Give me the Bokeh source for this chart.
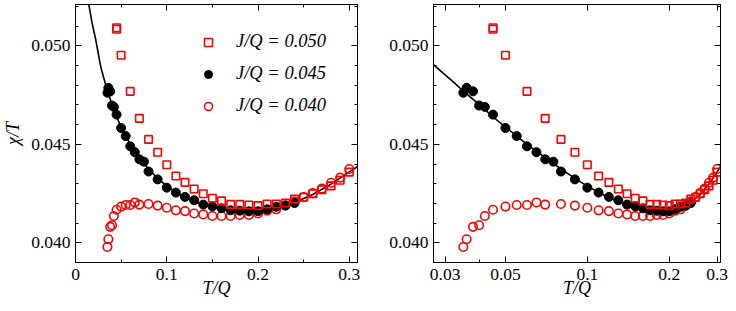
from bokeh.plotting import figure
from bokeh.models import Range1d, FixedTicker, LinearAxis, Legend, LegendItem, CustomLabelingPolicy
from bokeh.layouts import row
from bokeh.embed import file_html
from bokeh.resources import INLINE

# ---------------- data ----------------
T_045 = [0.035, 0.036, 0.038, 0.040, 0.042, 0.045, 0.050, 0.055, 0.060, 0.065,
         0.070, 0.075, 0.080, 0.090, 0.100, 0.110, 0.120, 0.130, 0.140, 0.150,
         0.160, 0.170, 0.180, 0.190, 0.200, 0.210, 0.220, 0.230, 0.240]
chi_045 = [0.04762, 0.04787, 0.04769, 0.04697, 0.04690, 0.04651, 0.04583, 0.04542, 0.04490, 0.04460,
           0.04424, 0.04412, 0.04362, 0.04322, 0.04280, 0.04255, 0.04233, 0.04216, 0.04194, 0.04185,
           0.04175, 0.04165, 0.04163, 0.04160, 0.04160, 0.04170, 0.04183, 0.04189, 0.04202]

T_050 = [0.045, 0.045, 0.050, 0.060, 0.070, 0.080, 0.090, 0.100, 0.110, 0.120,
         0.130, 0.140, 0.150, 0.160, 0.170, 0.180, 0.190, 0.200, 0.210, 0.220,
         0.230, 0.240, 0.250, 0.260, 0.270, 0.280, 0.290, 0.300]
chi_050 = [0.05092, 0.05084, 0.04952, 0.04769, 0.04632, 0.04525, 0.04460, 0.04396, 0.04339, 0.04307,
           0.04273, 0.04249, 0.04226, 0.04213, 0.04195, 0.04195, 0.04192, 0.04189, 0.04197, 0.04197,
           0.04202, 0.04222, 0.04231, 0.04249, 0.04270, 0.04289, 0.04318, 0.04359]

T_040 = [0.035, 0.036, 0.038, 0.040, 0.042, 0.045, 0.050, 0.055, 0.060, 0.065,
         0.070, 0.080, 0.090, 0.100, 0.110, 0.120, 0.130, 0.140, 0.150, 0.160,
         0.170, 0.180, 0.190, 0.200, 0.210, 0.220, 0.230, 0.240, 0.250, 0.260,
         0.270, 0.280, 0.290, 0.300]
chi_040 = [0.03979, 0.04018, 0.04081, 0.04089, 0.04136, 0.04168, 0.04184, 0.04192, 0.04192, 0.04205,
           0.04194, 0.04197, 0.04189, 0.04178, 0.04165, 0.04161, 0.04149, 0.04144, 0.04136, 0.04136,
           0.04136, 0.04141, 0.04141, 0.04149, 0.04163, 0.04170, 0.04190, 0.04210, 0.04232, 0.04252,
           0.04275, 0.04305, 0.04331, 0.04375]

T_fit = [0.0146, 0.018, 0.022, 0.025, 0.0272, 0.029, 0.032, 0.035, 0.040, 0.045,
         0.050, 0.060, 0.070, 0.080, 0.090, 0.100, 0.120, 0.140, 0.160, 0.180,
         0.200, 0.220, 0.240, 0.260, 0.280, 0.300, 0.310]
chi_fit = [0.05210, 0.05120, 0.05035, 0.04960, 0.04905, 0.04870, 0.04820, 0.04770, 0.04703, 0.04640,
           0.04588, 0.04500, 0.04432, 0.04375, 0.04327, 0.04288, 0.04228, 0.04192, 0.04170, 0.04160,
           0.04163, 0.04177, 0.04205, 0.04245, 0.04298, 0.04360, 0.04390]

legend_labels = ["J/Q = 0.050", "J/Q = 0.045", "J/Q = 0.040"]

y_ticks = [0.040, 0.045, 0.050]
y_tick_labels = ["0.040", "0.045", "0.050"]
y_minor = [0.039, 0.041, 0.042, 0.043, 0.044, 0.046, 0.047, 0.048, 0.049, 0.051, 0.052]

xl_ticks = [0.0, 0.1, 0.2, 0.3]
xl_tick_labels = ["0", "0.1", "0.2", "0.3"]
xl_minor = [0.05, 0.15, 0.25]

xr_ticks = [0.03, 0.05, 0.1, 0.2, 0.3]
xr_tick_labels = ["0.03", "0.05", "0.1", "0.2", "0.3"]
xr_minor = [0.04]

x_label = "T/Q"
y_label = "\u03c7/T"

FONT = "Liberation Serif"
RED = "#ff0000"


def dress_axis(ax, ticks, minor, labels, show_labels=True):
    ax.ticker = FixedTicker(ticks=ticks, minor_ticks=minor)
    ax.major_tick_in = 6
    ax.major_tick_out = 0
    ax.minor_tick_in = 3
    ax.minor_tick_out = 0
    ax.major_tick_line_color = "black"
    ax.minor_tick_line_color = "black"
    ax.axis_line_color = "black"
    if show_labels:
        ax.major_label_overrides = {t: l for t, l in zip(ticks, labels)}
        ax.major_label_text_font = FONT
        ax.major_label_text_font_size = "17.5px"
        ax.major_label_text_color = "black"
        ax.major_label_standoff = 5
    else:
        # mirrored tick marks only: no labels are drawn
        ax.major_label_policy = CustomLabelingPolicy(code="return new Set()")
        ax.major_label_text_font_size = "1px"
        ax.major_label_standoff = 0


def make_panel(log, width, mbl, mbr, xr, show_ylabel, with_legend):
    p = figure(width=width, height=300, output_backend="svg", toolbar_location=None,
               x_axis_type="log" if log else "linear",
               x_range=Range1d(*xr), y_range=Range1d(0.0390, 0.0521),
               min_border_left=mbl, min_border_right=mbr, min_border_top=1,
               min_border_bottom=0)
    p.xgrid.visible = False
    p.ygrid.visible = False
    p.outline_line_color = "black"
    p.outline_line_width = 1
    p.background_fill_color = "white"
    p.border_fill_color = "white"

    xt, xlbl, xm = (xr_ticks, xr_tick_labels, xr_minor) if log else (xl_ticks, xl_tick_labels, xl_minor)
    dress_axis(p.xaxis[0], xt, xm, xlbl)
    dress_axis(p.yaxis[0], y_ticks, y_minor, y_tick_labels)
    xa = p.xaxis[0]
    xa.axis_label = x_label
    xa.axis_label_text_font = FONT
    xa.axis_label_text_font_style = "italic"
    xa.axis_label_text_font_size = "18px"
    xa.axis_label_text_color = "black"
    xa.major_label_standoff = 6
    xa.axis_label_standoff = -5
    if show_ylabel:
        ya = p.yaxis[0]
        ya.axis_label = y_label
        ya.axis_label_text_font = FONT
        ya.axis_label_text_font_style = "italic"
        ya.axis_label_text_font_size = "18px"
        ya.axis_label_text_color = "black"
        ya.axis_label_standoff = 5

    top = LinearAxis()
    dress_axis(top, xt, xm, xlbl, show_labels=False)
    p.add_layout(top, "above")
    right = LinearAxis()
    dress_axis(right, y_ticks, y_minor, y_tick_labels, show_labels=False)
    p.add_layout(right, "right")

    p.line(T_fit, chi_fit, line_color="black", line_width=1.6)
    r_c = p.scatter(T_040, chi_040, marker="circle", size=8.5, fill_color=None,
                    line_color=RED, line_width=1.6)
    r_b = p.scatter(T_045, chi_045, marker="circle", size=9, fill_color="black",
                    line_color="black")
    r_s = p.scatter(T_050, chi_050, marker="square", size=7.5, fill_color=None,
                    line_color=RED, line_width=1.6)

    if with_legend:
        legend = Legend(items=[LegendItem(label=legend_labels[0], renderers=[r_s]),
                               LegendItem(label=legend_labels[1], renderers=[r_b]),
                               LegendItem(label=legend_labels[2], renderers=[r_c])],
                        location=(123, 146))
        legend.label_text_font = FONT
        legend.label_text_font_style = "italic"
        legend.label_text_font_size = "18.5px"
        legend.label_text_color = "black"
        legend.glyph_width = 20
        legend.glyph_height = 20
        legend.label_height = 20
        legend.label_standoff = 18
        legend.spacing = 11
        legend.padding = 0
        legend.margin = 0
        legend.border_line_color = None
        legend.background_fill_alpha = 0
        p.add_layout(legend)
    return p


p_left = make_panel(False, 366, 66, 9, (0.0, 0.309), True, True)
p_right = make_panel(True, 362, 67, 8, (0.0272, 0.3086), False, False)

layout = row(p_left, p_right)
open("out.html", "w").write(file_html(layout, INLINE))
